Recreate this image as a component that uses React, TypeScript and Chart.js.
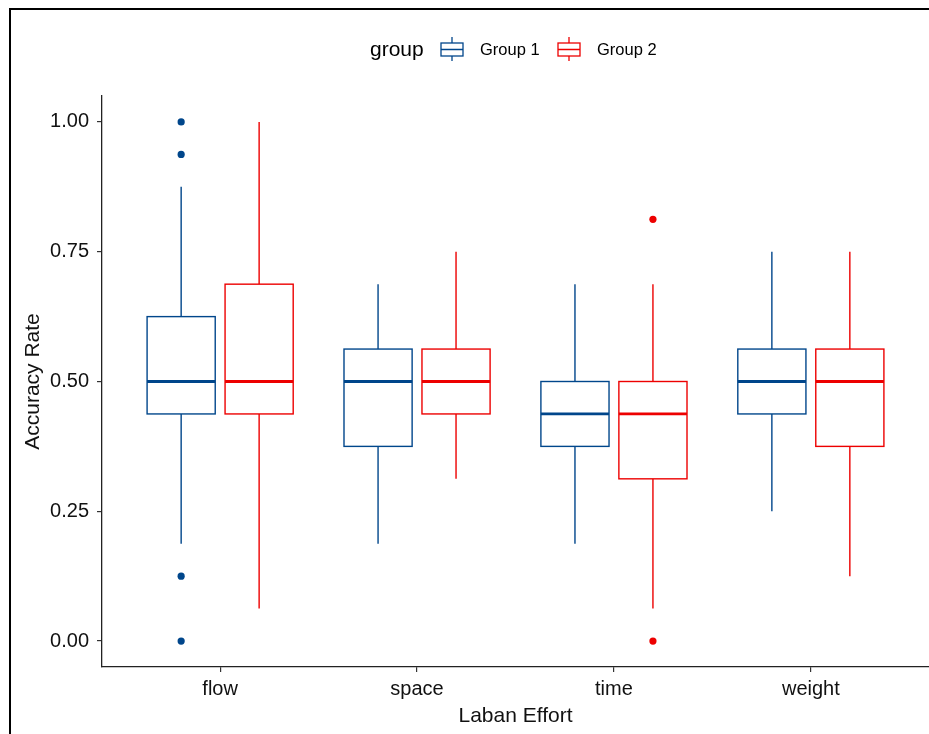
import React, { useEffect, useRef } from "react";
import { Chart, registerables } from "chart.js";

Chart.register(...registerables);

const categories = ["flow", "space", "time", "weight"];
const groups = ["Group 1", "Group 2"];
const colors = ["#00468B", "#ED0000"];

// [lowerWhisker, q1, median, q3, upperWhisker] per category
const group1Stats = [
  [0.1875, 0.4375, 0.5, 0.625, 0.875],
  [0.1875, 0.375, 0.5, 0.5625, 0.6875],
  [0.1875, 0.375, 0.4375, 0.5, 0.6875],
  [0.25, 0.4375, 0.5, 0.5625, 0.75],
];
const group2Stats = [
  [0.0625, 0.4375, 0.5, 0.6875, 1.0],
  [0.3125, 0.4375, 0.5, 0.5625, 0.75],
  [0.0625, 0.3125, 0.4375, 0.5, 0.6875],
  [0.125, 0.375, 0.5, 0.5625, 0.75],
];
const group1Outliers = [[1.0, 0.9375, 0.125, 0.0], [], [], []];
const group2Outliers = [[], [], [0.8125, 0.0], []];
const yTicks = [0, 0.25, 0.5, 0.75, 1.0];

const allStats = [group1Stats, group2Stats];
const allOutliers = [group1Outliers, group2Outliers];

const DODGE = 0.198;
const BOX_W = 0.346;
const FONT = "'Liberation Sans', Arial, Helvetica, sans-serif";

const boxPlugin = {
  id: "boxes",
  beforeDatasetsDraw(chart: any) {
    const { ctx, scales } = chart;
    const xs = scales.x;
    const ys = scales.y;
    ctx.save();
    allStats.forEach((stats, g) => {
      const off = g === 0 ? -DODGE : DODGE;
      stats.forEach((s, i) => {
        const cx = i + 1 + off;
        const xc = xs.getPixelForValue(cx);
        const xl = xs.getPixelForValue(cx - BOX_W / 2);
        const xr = xs.getPixelForValue(cx + BOX_W / 2);
        const [lo, q1, med, q3, hi] = s.map((v: number) => ys.getPixelForValue(v));
        ctx.strokeStyle = colors[g];
        ctx.lineWidth = 1.4;
        ctx.beginPath();
        ctx.moveTo(xc, hi);
        ctx.lineTo(xc, q3);
        ctx.moveTo(xc, q1);
        ctx.lineTo(xc, lo);
        ctx.stroke();
        ctx.fillStyle = "#ffffff";
        ctx.fillRect(xl, q3, xr - xl, q1 - q3);
        ctx.strokeRect(xl, q3, xr - xl, q1 - q3);
        ctx.lineWidth = 2.8;
        ctx.beginPath();
        ctx.moveTo(xl, med);
        ctx.lineTo(xr, med);
        ctx.stroke();
      });
    });
    ctx.restore();
  },
  afterDraw(chart: any) {
    const { ctx } = chart;
    ctx.save();
    // outer frame
    ctx.strokeStyle = "#000";
    ctx.lineWidth = 2;
    ctx.beginPath();
    ctx.moveTo(10, 734);
    ctx.lineTo(10, 9);
    ctx.lineTo(929, 9);
    ctx.stroke();
    // legend
    ctx.fillStyle = "#000";
    ctx.textBaseline = "middle";
    ctx.textAlign = "left";
    ctx.font = `21px ${FONT}`;
    ctx.fillText("group", 370, 50);
    const keyX = [441, 558];
    const textX = [480, 597];
    groups.forEach((name, g) => {
      const x = keyX[g];
      ctx.strokeStyle = colors[g];
      ctx.lineWidth = 1.3;
      ctx.strokeRect(x, 43, 22, 13);
      ctx.beginPath();
      ctx.moveTo(x + 11, 37);
      ctx.lineTo(x + 11, 43);
      ctx.moveTo(x + 11, 56);
      ctx.lineTo(x + 11, 61);
      ctx.moveTo(x, 49.5);
      ctx.lineTo(x + 22, 49.5);
      ctx.stroke();
      ctx.fillStyle = "#000";
      ctx.font = `16.5px ${FONT}`;
      ctx.fillText(name, textX[g], 50);
    });
    ctx.restore();
  },
};

function makeOutlierData(g: number) {
  const off = g === 0 ? -DODGE : DODGE;
  const pts: { x: number; y: number }[] = [];
  allOutliers[g].forEach((vals, i) => {
    vals.forEach((v) => pts.push({ x: i + 1 + off, y: v }));
  });
  return pts;
}

export default function App() {
  const ref = useRef<HTMLCanvasElement>(null);
  useEffect(() => {
    if (!ref.current) return;
    const chart = new Chart(ref.current, {
      type: "scatter",
      data: {
        datasets: groups.map((name, g) => ({
          label: name,
          data: makeOutlierData(g),
          backgroundColor: colors[g],
          borderColor: colors[g],
          pointRadius: 3.6,
          pointBorderWidth: 0,
        })),
      },
      plugins: [boxPlugin],
      options: {
        animation: false,
        responsive: false,
        layout: { autoPadding: false, padding: { top: 96, left: 0, right: 0, bottom: 0 } },
        plugins: { legend: { display: false }, tooltip: { enabled: false } },
        scales: {
          x: {
            type: "linear",
            min: 0.4,
            max: 4.6,
            afterBuildTicks: (s: any) => {
              s.ticks = categories.map((_, i) => ({ value: i + 1 }));
            },
            afterFit: (s: any) => {
              s.height = 67;
            },
            ticks: {
              callback: (v: any) => categories[Math.round(Number(v)) - 1] ?? "",
              color: "#111",
              font: { family: FONT, size: 20 },
              padding: 5,
              maxRotation: 0,
              autoSkip: false,
            },
            grid: { display: true, drawOnChartArea: false, drawTicks: true, tickLength: 5, color: "#333", lineWidth: 1.2 },
            border: { display: true, color: "#222", width: 1.3 },
            title: { display: true, text: "Laban Effort", color: "#111", font: { family: FONT, size: 21 }, padding: { top: 0, bottom: 5 } },
          },
          y: {
            type: "linear",
            min: -0.05,
            max: 1.05,
            afterBuildTicks: (s: any) => {
              s.ticks = yTicks.map((v) => ({ value: v }));
            },
            afterFit: (s: any) => {
              s.width = 102;
            },
            ticks: {
              callback: (v: any) => Number(v).toFixed(2),
              color: "#111",
              font: { family: FONT, size: 20 },
              padding: 8,
            },
            grid: { display: true, drawOnChartArea: false, drawTicks: true, tickLength: 5, color: "#333", lineWidth: 1.2 },
            border: { display: true, color: "#222", width: 1.3 },
            title: { display: true, text: "Accuracy Rate", color: "#111", font: { family: FONT, size: 21 }, padding: { top: 21, bottom: 0 } },
          },
        },
      },
    } as any);
    return () => chart.destroy();
  }, []);
  return (
    <div style={{ position: "fixed", left: 0, top: 0, width: 929, height: 734, background: "#fff" }}>
      <canvas ref={ref} width={929} height={734} style={{ width: 929, height: 734, display: "block" }} />
    </div>
  );
}
